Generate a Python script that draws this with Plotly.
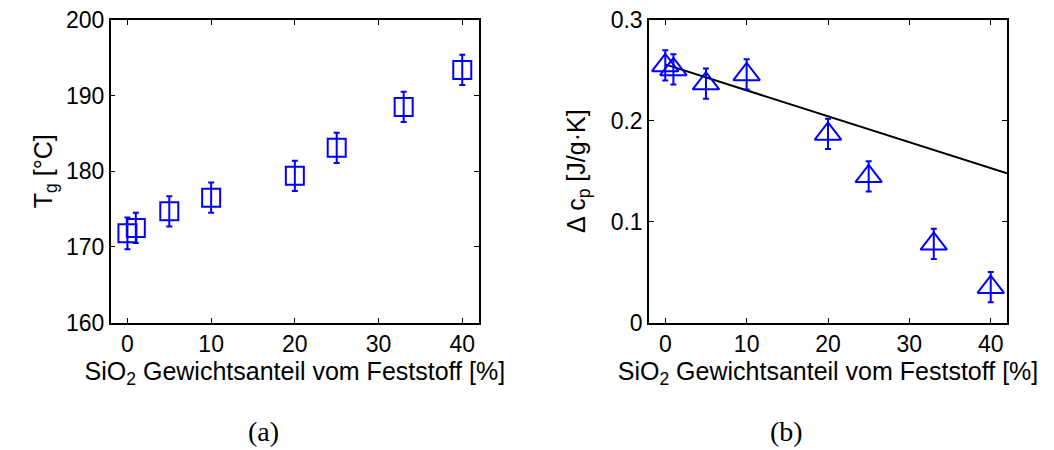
import plotly.graph_objects as go

# SiO2 weight fraction of the solids [%]
sio2 = [0, 1, 5, 10, 20, 25, 33, 40]

# (a) glass transition temperature and its uncertainty
tg = [171.8, 172.5, 174.7, 176.5, 179.4, 183.1, 188.5, 193.4]
tg_err = [2.1, 2.0, 2.0, 2.0, 2.0, 2.0, 2.0, 2.0]

# (b) heat capacity step and its uncertainty
dcp = [0.255, 0.251, 0.237, 0.246, 0.187, 0.145, 0.078, 0.035]
dcp_err = [0.015, 0.015, 0.015, 0.015, 0.015, 0.015, 0.015, 0.015]

# (b) reference line (pure polymer step scaled by polymer fraction)
ref_x = [0, 42]
ref_y = [0.256, 0.148]

BLUE = "#0000ff"
FONT = "Liberation Sans, Arial, Helvetica, sans-serif"
SERIF = "Liberation Serif, serif"
W, H = 1054, 450

fig = go.Figure()

fig.add_trace(go.Scatter(
    x=sio2, y=tg, mode="markers",
    marker=dict(symbol="square-open", size=18, color=BLUE, line=dict(width=2, color=BLUE)),
    error_y=dict(type="data", array=tg_err, color=BLUE, thickness=2, width=3),
    xaxis="x", yaxis="y", showlegend=False,
))

fig.add_trace(go.Scatter(
    x=ref_x, y=ref_y, mode="lines",
    line=dict(color="black", width=2),
    xaxis="x2", yaxis="y2", showlegend=False,
))

fig.add_trace(go.Scatter(
    x=sio2, y=dcp, mode="markers",
    marker=dict(symbol="triangle-up-open", size=23, color=BLUE, line=dict(width=2, color=BLUE)),
    error_y=dict(type="data", array=dcp_err, color=BLUE, thickness=2, width=3),
    xaxis="x2", yaxis="y2", showlegend=False,
))

y_dom = [1 - 322.5 / H, 1 - 20 / H]

axis_common = dict(
    showline=True, linecolor="black", linewidth=1.5, mirror="ticks",
    ticks="inside", ticklen=5, tickwidth=1, tickcolor="black",
    showgrid=False, zeroline=False, automargin=False,
    tickfont=dict(family=FONT, size=23, color="black"),
)
title_font = dict(family=FONT, size=25, color="black")
x_title = "SiO<sub>2</sub> Gewichtsanteil vom Feststoff [%]"

fig.update_layout(
    template="none",
    width=W, height=H,
    margin=dict(l=0, r=0, t=0, b=0, autoexpand=False),
    paper_bgcolor="white", plot_bgcolor="white",
    xaxis=dict(domain=[110.7 / W, 479 / W], range=[-2, 42], tickvals=[0, 10, 20, 30, 40],
               anchor="y", title=dict(text=x_title, font=title_font, standoff=3),
               **axis_common),
    yaxis=dict(domain=y_dom, range=[160, 200], tickvals=[160, 170, 180, 190, 200],
               anchor="x", title=dict(text="T<sub>g</sub> [°C]", font=title_font, standoff=6),
               **axis_common),
    xaxis2=dict(domain=[649 / W, 1007 / W], range=[-2, 42], tickvals=[0, 10, 20, 30, 40],
                anchor="y2", title=dict(text=x_title, font=title_font, standoff=3),
                **axis_common),
    yaxis2=dict(domain=y_dom, range=[0, 0.3], tickvals=[0, 0.1, 0.2, 0.3],
                anchor="x2", title=dict(text="Δ c<sub>p</sub> [J/g·K]", font=title_font, standoff=18),
                **axis_common),
    annotations=[
        dict(text="(a)", x=263 / W, y=1 - 431 / H, xref="paper", yref="paper",
             xanchor="center", yanchor="middle", showarrow=False,
             font=dict(family=SERIF, size=28, color="black")),
        dict(text="(b)", x=786 / W, y=1 - 431 / H, xref="paper", yref="paper",
             xanchor="center", yanchor="middle", showarrow=False,
             font=dict(family=SERIF, size=28, color="black")),
    ],
)

fig.write_html("out.html")
